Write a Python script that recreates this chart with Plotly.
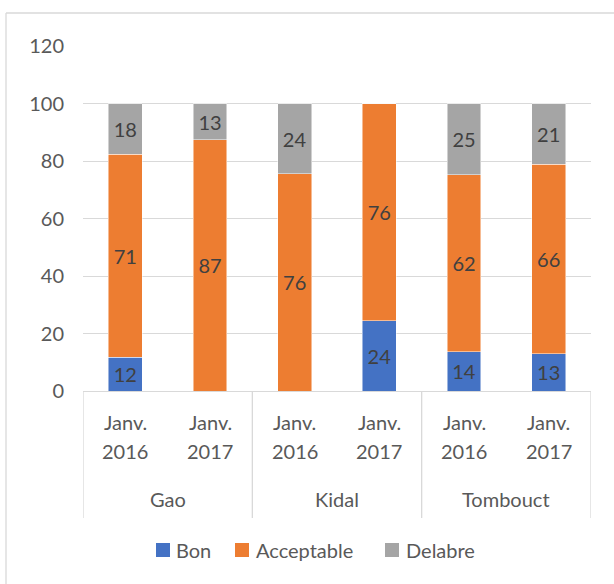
import plotly.graph_objects as go

regions = ["Gao", "Kidal", "Tombouct"]
periods = ["Janv. 2016", "Janv. 2017"]
categories = [f"{r} {p}" for r in regions for p in periods]
bon = [11.7, 0, 0, 24.4, 13.6, 13.0]
acceptable = [70.6, 87.4, 75.6, 75.6, 61.6, 65.8]
delabre = [17.7, 12.6, 24.4, 0, 24.8, 21.2]
y_ticks = [0, 20, 40, 60, 80, 100, 120]

series = [("Bon", bon, "#4472C4"), ("Acceptable", acceptable, "#ED7D31"), ("Delabre", delabre, "#A5A5A5")]

FONT = "Lato"
FS = 20
GRID = "#D9D9D9"
TXT = "#595959"

# plot area in page pixels
L, R, T, B = 83, 591, 46, 391
W, H = 614, 584
def px(x):
    return (x - L) / (R - L)
def py(y):
    return (B - y) / (B - T)

fig = go.Figure()
for name, vals, col in series:
    fig.add_trace(go.Bar(
        x=categories, y=vals, name=name, showlegend=False,
        marker=dict(color=col, line=dict(color="rgba(255,255,255,0.6)", width=0.8)),
        text=[f"{v:.0f}" if v > 0 else "" for v in vals],
        textposition="inside", insidetextanchor="middle",
        textfont=dict(family=FONT, size=FS, color="#404040"),
        constraintext="none",
    ))

annotations = []
shapes = []
# sub-category labels (two lines) and group labels
for i, cat in enumerate(categories):
    word, year = periods[i % 2].split(" ")
    annotations.append(dict(x=i, xref="x", y=py(422.5), yref="paper", text=word, showarrow=False,
                            xanchor="center", yanchor="middle", font=dict(family=FONT, size=FS, color=TXT)))
    annotations.append(dict(x=i, xref="x", y=py(451), yref="paper", text=year, showarrow=False,
                            xanchor="center", yanchor="middle", font=dict(family=FONT, size=FS, color=TXT)))
for g, reg in enumerate(regions):
    annotations.append(dict(x=2 * g + 0.5, xref="x", y=py(499), yref="paper", text=reg, showarrow=False,
                            xanchor="center", yanchor="middle", font=dict(family=FONT, size=FS, color=TXT)))
for d in [-0.5, 1.5, 3.5, 5.5]:
    shapes.append(dict(type="line", xref="x", yref="paper", x0=d, x1=d, y0=0, y1=py(518),
                       line=dict(color=GRID, width=1.3)))

# legend
leg = [("Bon", "#4472C4", 156, 174), ("Acceptable", "#ED7D31", 235, 254), ("Delabre", "#A5A5A5", 385, 404)]
for name, col, sx, tx in leg:
    shapes.append(dict(type="rect", xref="paper", yref="paper", x0=px(sx), x1=px(sx + 14),
                       y0=py(557), y1=py(543), fillcolor=col, line=dict(width=0)))
    annotations.append(dict(x=px(tx), xref="paper", y=py(550), yref="paper", text=name, showarrow=False,
                            xanchor="left", yanchor="middle", font=dict(family=FONT, size=FS, color=TXT)))

# chart border (left and top edges visible)
shapes.append(dict(type="line", xref="paper", yref="paper", x0=px(6), x1=px(6), y0=py(13), y1=py(600),
                   line=dict(color=GRID, width=1.3)))
shapes.append(dict(type="line", xref="paper", yref="paper", x0=px(6), x1=px(620), y0=py(13), y1=py(13),
                   line=dict(color=GRID, width=1.3)))

fig.update_layout(
    barmode="stack", bargap=0.6,
    width=W, height=H,
    margin=dict(l=L, r=W - R, t=T, b=H - B, pad=0),
    paper_bgcolor="white", plot_bgcolor="white",
    font=dict(family=FONT, size=FS, color=TXT),
    showlegend=False,
    yaxis=dict(range=[0, 120], tickvals=y_ticks, showgrid=True, gridcolor=GRID, gridwidth=1.3,
               zeroline=False, showline=False, ticks="", ticklabelstandoff=18,
               tickfont=dict(family=FONT, size=FS, color=TXT)),
    xaxis=dict(type="category", showline=True, linecolor=GRID, linewidth=1.3,
               showticklabels=False, ticks="", showgrid=False, range=[-0.5, 5.5]),
    shapes=shapes,
    annotations=annotations,
)

fig.write_html("out.html", config={"displayModeBar": False},
               post_script="document.body.style.margin='0px';")
